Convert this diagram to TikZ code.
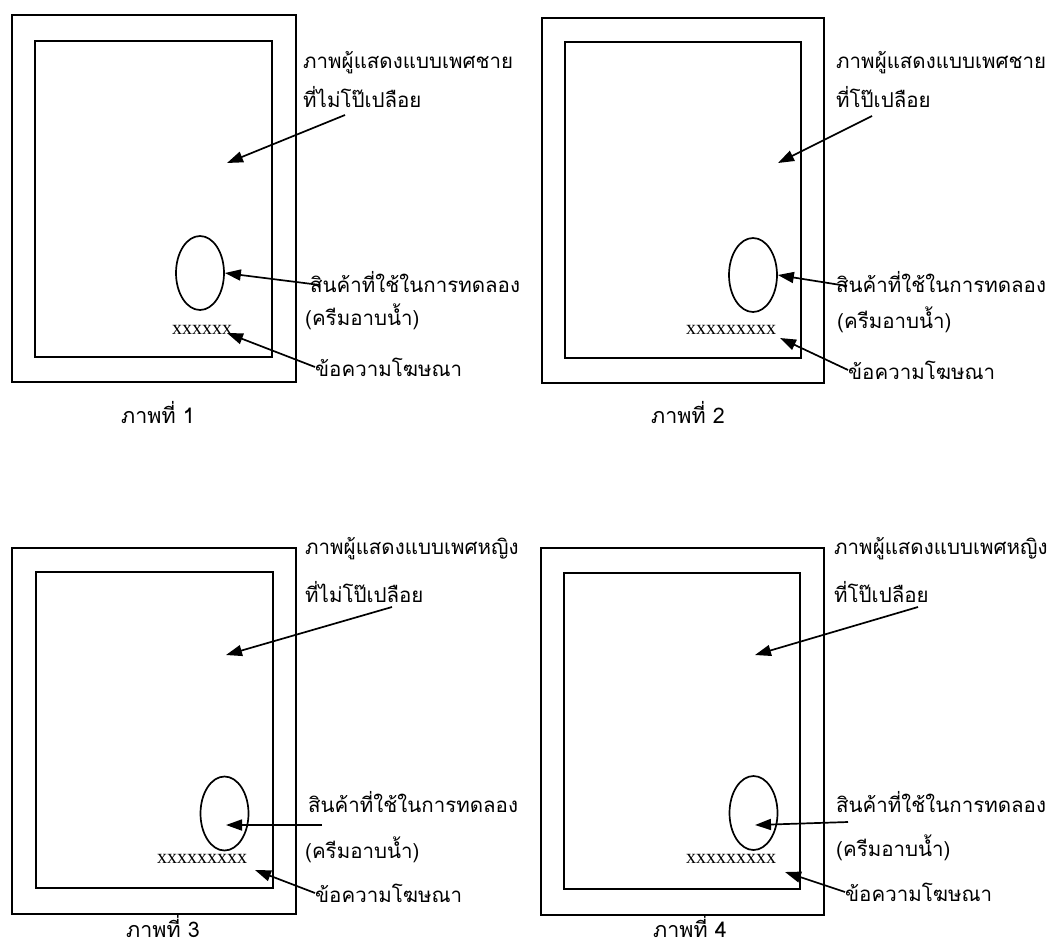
\documentclass[tikz,border=0pt]{standalone}
\usepackage{fontspec}
\setmainfont{Liberation Serif}
\newfontfamily\thaifont[Script=Thai]{Loma}
\usetikzlibrary{arrows.meta,shapes.geometric}

\tikzset{
  frame/.style={draw, line width=1.9pt},
  note/.style={font=\thaifont\fontsize{20.5}{24}\selectfont, anchor=west, inner sep=0pt},
  caption/.style={font=\thaifont\fontsize{21.5}{24}\selectfont, anchor=center, inner sep=0pt},
  adtext/.style={font=\fontsize{20}{22}\selectfont, anchor=west, inner sep=0pt},
  product/.style={draw, ellipse, line width=1.7pt, inner sep=0pt,
                  minimum width=48pt, minimum height=74pt},
  pointer/.style={line width=1.7pt, -{Triangle[length=16pt,width=11pt]}}
}

\begin{document}
\begin{tikzpicture}[x=1pt,y=-1pt]
\useasboundingbox (0,0) rectangle (1059,945);

% ---------- panel 1 ----------
\draw[frame] (12,15) rectangle (296,382);
\draw[frame] (35,41) rectangle (272,357);
\node[note] (p1a) at (303,63) {ภาพผู้แสดงแบบเพศชาย};
\node[note] (p1b) at (303,97) {ที่ไม่โป๊เปลือย};
\coordinate (p1as) at (345,115);
\coordinate (p1at) at (227,163);
\draw[pointer] (p1as) -- (p1at);
\node[product] (p1e) at (200,273) {};
\node[note] (p1c) at (310,282) {สินค้าที่ใช้ในการทดลอง};
\coordinate (p1cs) at (320,285);
\draw[pointer] (p1cs) -- (p1e.east);
\node[note] (p1d) at (305,317) {(ครีมอาบน้ำ)};
\node[adtext] (p1x) at (172,330) {xxxxxx};
\node[note] (p1f) at (315,367) {ข้อความโฆษณา};
\coordinate (p1xt) at (227,333);
\draw[pointer] (p1f.west) -- (p1xt);
\node[caption] (p1g) at (158,412) {ภาพที่ 1};

% ---------- panel 2 ----------
\draw[frame] (542,18) rectangle (824,383);
\draw[frame] (565,42) rectangle (801,358);
\node[note] (p2a) at (836,63) {ภาพผู้แสดงแบบเพศชาย};
\node[note] (p2b) at (836,97) {ที่โป๊เปลือย};
\coordinate (p2as) at (872,116);
\coordinate (p2at) at (778,163);
\draw[pointer] (p2as) -- (p2at);
\node[product] (p2e) at (753,275) {};
\node[note] (p2c) at (836,282) {สินค้าที่ใช้ในการทดลอง};
\coordinate (p2cs) at (847,286);
\draw[pointer] (p2cs) -- (p2e.east);
\node[note] (p2d) at (837,320) {(ครีมอาบน้ำ)};
\node[adtext] (p2x) at (686,330) {xxxxxxxxx};
\node[note] (p2f) at (848,370) {ข้อความโฆษณา};
\coordinate (p2xt) at (780,338);
\draw[pointer] (p2f.west) -- (p2xt);
\node[caption] (p2g) at (688,412) {ภาพที่ 2};

% ---------- panel 3 ----------
\draw[frame] (12,548) rectangle (296,914);
\draw[frame] (36,572) rectangle (273,888);
\node[note] (p3a) at (305,549) {ภาพผู้แสดงแบบเพศหญิง};
\node[note] (p3b) at (305,592) {ที่ไม่โป๊เปลือย};
\coordinate (p3as) at (392,607);
\coordinate (p3at) at (226,655);
\draw[pointer] (p3as) -- (p3at);
\node[product] (p3e) at (224.5,813.5) {};
\node[note] (p3c) at (308,802) {สินค้าที่ใช้ในการทดลอง};
\coordinate (p3cs) at (322,825);
\coordinate (p3ct) at (226,825);
\draw[pointer] (p3cs) -- (p3ct);
\node[note] (p3d) at (305,850) {(ครีมอาบน้ำ)};
\node[adtext] (p3x) at (157,859) {xxxxxxxxx};
\node[note] (p3f) at (315,893) {ข้อความโฆษณา};
\coordinate (p3xt) at (255,870);
\draw[pointer] (p3f.west) -- (p3xt);
\node[caption] (p3g) at (163,926) {ภาพที่ 3};

% ---------- panel 4 ----------
\draw[frame] (541,548) rectangle (824,915);
\draw[frame] (564,573) rectangle (800,889);
\node[note] (p4a) at (834,549) {ภาพผู้แสดงแบบเพศหญิง};
\node[note] (p4b) at (834,592) {ที่โป๊เปลือย};
\coordinate (p4as) at (918,607);
\coordinate (p4at) at (755,655);
\draw[pointer] (p4as) -- (p4at);
\node[product] (p4e) at (753.5,813) {};
\node[note] (p4c) at (836,802) {สินค้าที่ใช้ในการทดลอง};
\coordinate (p4cs) at (848,822);
\coordinate (p4ct) at (755,825);
\draw[pointer] (p4cs) -- (p4ct);
\node[note] (p4d) at (836,848) {(ครีมอาบน้ำ)};
\node[adtext] (p4x) at (686,859) {xxxxxxxxx};
\node[note] (p4f) at (845,892) {ข้อความโฆษณา};
\coordinate (p4xt) at (785,872);
\draw[pointer] (p4f.west) -- (p4xt);
\node[caption] (p4g) at (690,926) {ภาพที่ 4};
\end{tikzpicture}
\end{document}
